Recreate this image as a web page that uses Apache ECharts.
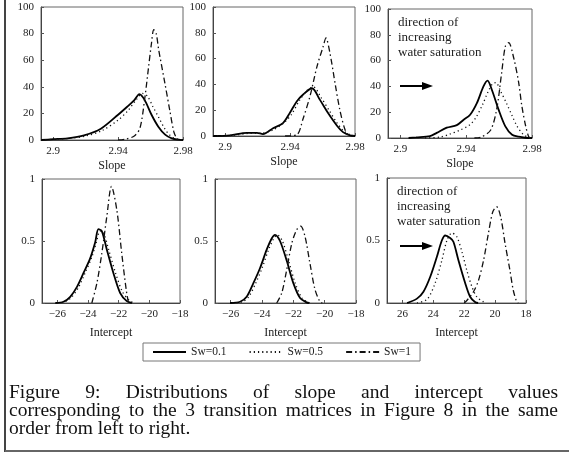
<!DOCTYPE html>
<html>
<head>
<meta charset="utf-8">
<script src="https://cdn.jsdelivr.net/npm/echarts@6/dist/echarts.min.js"></script>
<style>
  html, body { margin: 0; padding: 0; background: #fff; }
  #main { width: 569px; height: 454px; }
</style>
</head>
<body>
<div id="main"></div>
<script>
// legend names
var seriesNames = ['Sw=0.1', 'Sw=0.5', 'Sw=1'];

// tick labels
var slopeTicks = [2.9, 2.94, 2.98];
var interceptTicks = [-26, -24, -22, -20, -18];
var interceptTicksRev = [26, 24, 22, 20, 18];

// top row: slope distributions  [slope, density]
var slope1Sw01 = [[2.8925,0],[2.9,0.6],[2.9088,1.3],[2.919,3.5],[2.9294,8.5],[2.94,19],[2.9456,25],[2.95,30],[2.9531,34.5],[2.9564,30],[2.9606,19],[2.9648,10],[2.969,4],[2.9731,1.2],[2.9773,0.2],[2.98,0]];
var slope1Sw05 = [[2.8925,0],[2.9,0.5],[2.91,1.2],[2.92,3],[2.93,7],[2.94,15],[2.946,22],[2.951,30],[2.955,35],[2.958,33],[2.9615,25],[2.965,17],[2.969,8],[2.972,3.5],[2.975,1],[2.978,0.2],[2.98,0]];
var slope1Sw1 = [[2.94,0],[2.945,0.8],[2.95,3],[2.9535,9],[2.9563,30],[2.9588,55],[2.9605,72],[2.962,83],[2.9635,80],[2.965,68],[2.9688,43],[2.9719,22],[2.9744,6],[2.9763,1],[2.978,0]];

var slope2Sw01 = [[2.8925,0],[2.903,0.5],[2.9134,2.5],[2.9196,2.5],[2.9233,1.5],[2.9295,6],[2.9356,10],[2.9399,18],[2.9442,27],[2.9479,32],[2.9535,37],[2.9584,28],[2.9633,18],[2.9689,8],[2.9726,3],[2.9769,0.5],[2.98,0]];
var slope2Sw05 = [[2.8925,0],[2.905,0.6],[2.915,2],[2.922,2],[2.93,5],[2.936,10],[2.941,17],[2.946,28],[2.951,36],[2.9545,38],[2.959,30],[2.964,20],[2.969,10],[2.973,4],[2.977,1],[2.98,0]];
var slope2Sw1 = [[2.9369,0],[2.9442,1],[2.9479,13],[2.9523,31],[2.9566,54],[2.9603,69],[2.9621,76],[2.9646,64],[2.9677,41],[2.9707,20],[2.9738,5],[2.9757,1],[2.977,0]];

var slope3Sw01 = [[2.905,0],[2.9096,0.5],[2.918,1.5],[2.9221,4],[2.9282,8],[2.9343,10],[2.9383,14],[2.9424,18],[2.9465,27],[2.9505,40],[2.953,44.5],[2.9557,37],[2.9597,22],[2.9638,9],[2.9679,2.5],[2.9719,1],[2.976,0.2],[2.98,0]];
var slope3Sw05 = [[2.915,0],[2.9245,0.8],[2.93,3],[2.936,6],[2.942,10],[2.946,16],[2.95,26],[2.953,35],[2.956,42],[2.958,43],[2.961,36],[2.9645,27],[2.968,17],[2.971,9],[2.9745,3],[2.977,0.8],[2.979,0]];
var slope3Sw1 = [[2.945,0],[2.9487,0.5],[2.9548,6],[2.9585,22],[2.9615,50],[2.9638,71],[2.9658,74],[2.9689,62],[2.9719,43],[2.9738,25],[2.9762,9],[2.978,1],[2.979,0]];

// bottom row: intercept distributions  [intercept, density]
var icpt1Sw01 = [[-26.13,0],[-25.6,0.01],[-25.16,0.05],[-24.72,0.13],[-24.3,0.24],[-23.86,0.36],[-23.53,0.49],[-23.32,0.595],[-23.1,0.58],[-22.77,0.43],[-22.34,0.24],[-21.9,0.08],[-21.47,0.015],[-21.14,0]];
var icpt1Sw05 = [[-26,0],[-25.5,0.01],[-25.05,0.05],[-24.6,0.13],[-24.2,0.24],[-23.78,0.36],[-23.45,0.49],[-23.22,0.58],[-23.0,0.57],[-22.65,0.43],[-22.2,0.24],[-21.75,0.09],[-21.3,0.02],[-21.0,0]];
var icpt1Sw1 = [[-23.75,0],[-23.42,0.16],[-23.1,0.4],[-22.77,0.7],[-22.47,0.94],[-22.12,0.75],[-21.8,0.4],[-21.5,0.1],[-21.36,0]];

var icpt2Sw01 = [[-26.04,0],[-25.4,0.01],[-24.98,0.05],[-24.55,0.16],[-24.13,0.28],[-23.7,0.43],[-23.38,0.52],[-23.17,0.55],[-22.85,0.5],[-22.42,0.34],[-22.0,0.16],[-21.57,0.04],[-21.15,0.005],[-21.0,0]];
var icpt2Sw05 = [[-25.9,0],[-25.25,0.01],[-24.85,0.05],[-24.4,0.16],[-24.0,0.28],[-23.58,0.43],[-23.25,0.52],[-23.02,0.55],[-22.7,0.5],[-22.3,0.34],[-21.88,0.16],[-21.45,0.04],[-21.05,0.005],[-20.9,0]];
var icpt2Sw1 = [[-23.06,0],[-22.74,0.08],[-22.42,0.27],[-22.1,0.48],[-21.79,0.59],[-21.53,0.62],[-21.26,0.54],[-20.94,0.32],[-20.62,0.11],[-20.3,0.01],[-20.15,0]];

var icpt3Sw01 = [[25.7,0],[25.06,0.035],[24.64,0.09],[24.2,0.21],[23.77,0.37],[23.45,0.5],[23.23,0.54],[22.91,0.52],[22.7,0.49],[22.37,0.34],[21.94,0.16],[21.62,0.05],[21.3,0.008],[21.1,0]];
var icpt3Sw05 = [[25.06,0],[24.4,0.03],[23.88,0.16],[23.45,0.34],[23.12,0.5],[22.8,0.56],[22.48,0.53],[22.15,0.41],[21.83,0.26],[21.5,0.13],[21.19,0.05],[20.75,0.008],[20.6,0]];
var icpt3Sw1 = [[22.0,0],[21.83,0.02],[21.4,0.09],[21.08,0.18],[20.75,0.34],[20.43,0.56],[20.15,0.73],[19.9,0.77],[19.64,0.69],[19.36,0.48],[19.04,0.26],[18.82,0.1],[18.6,0.01],[18.5,0]];

var captionLines = [
  'Figure 9: Distributions of slope and intercept values',
  'corresponding to the 3 transition matrices in Figure 8 in the same',
  'order from left to right.'
];
var noteLines = ['direction of', 'increasing', 'water saturation'];

var serif = "'Liberation Serif', 'DejaVu Serif', serif";

// plot boxes
var grids = [
  { left: 41, top: 7, width: 142, height: 133 },
  { left: 213, top: 7, width: 142, height: 129 },
  { left: 388, top: 9, width: 144, height: 129 },
  { left: 42, top: 179, width: 138, height: 124 },
  { left: 215, top: 179, width: 141, height: 124 },
  { left: 387, top: 178, width: 139, height: 125 }
];

var lineStyles = [
  { color: '#000', width: 1.8, type: 'solid' },
  { color: '#111', width: 1.3, type: [1.2, 3] },
  { color: '#111', width: 1.3, type: [6, 3, 1.5, 3] }
];

var panelData = [
  [slope1Sw01, slope1Sw05, slope1Sw1],
  [slope2Sw01, slope2Sw05, slope2Sw1],
  [slope3Sw01, slope3Sw05, slope3Sw1],
  [icpt1Sw01, icpt1Sw05, icpt1Sw1],
  [icpt2Sw01, icpt2Sw05, icpt2Sw1],
  [icpt3Sw01, icpt3Sw05, icpt3Sw1]
];

function fmtNum(v) {
  return v < 0 ? '\u2212' + Math.abs(v) : String(v);
}

var xAxes = [], yAxes = [], series = [];
grids.forEach(function (g, i) {
  var top = i < 3;
  var inv = i === 5;
  var ticks = top ? slopeTicks : (inv ? interceptTicksRev : interceptTicks);
  xAxes.push({
    type: 'value', gridIndex: i,
    min: top ? 2.8925 : (inv ? 18 : -27),
    max: top ? 2.98 : (inv ? 27 : -18),
    inverse: inv,
    name: top ? 'Slope' : 'Intercept',
    nameLocation: 'middle',
    nameGap: top ? 20 : 24,
    nameTextStyle: { fontFamily: serif, fontSize: 12, color: '#222' },
    axisLine: { lineStyle: { color: '#444', width: 1 } },
    axisTick: { inside: true, length: 3, customValues: ticks, lineStyle: { color: '#555' } },
    axisLabel: { customValues: ticks, formatter: fmtNum, margin: 6,
      fontFamily: serif, fontSize: 11, color: '#222' },
    splitLine: { show: false }
  });
  yAxes.push({
    type: 'value', gridIndex: i,
    min: 0, max: top ? 100 : 1, interval: top ? 20 : 0.5,
    axisLine: { show: true, lineStyle: { color: '#444', width: 1 } },
    axisTick: { show: true, inside: true, length: 3, lineStyle: { color: '#555' } },
    axisLabel: { margin: 7, fontFamily: serif, fontSize: 11, color: '#222' },
    splitLine: { show: false }
  });
  panelData[i].forEach(function (d, k) {
    series.push({
      name: seriesNames[k], type: 'line',
      xAxisIndex: i, yAxisIndex: i,
      data: d, showSymbol: false, symbol: 'none',
      smooth: 0.3, silent: true,
      itemStyle: { color: '#000' },
      lineStyle: lineStyles[k]
    });
  });
});

// caption with justified lines
var measureCtx = document.createElement('canvas').getContext('2d');
var capFont = '19.5px ' + serif;
function placeWords(text, x0, x1, y, justify) {
  measureCtx.font = capFont;
  var words = text.split(' ');
  var widths = words.map(function (w) { return measureCtx.measureText(w).width; });
  var total = widths.reduce(function (a, b) { return a + b; }, 0);
  var gap = justify ? (x1 - x0 - total) / (words.length - 1) : measureCtx.measureText(' ').width;
  var x = x0, out = [];
  words.forEach(function (w, i) {
    out.push({ type: 'text', x: x, y: y, silent: true,
      style: { text: w, font: capFont, fill: '#111', verticalAlign: 'middle', align: 'left' } });
    x += widths[i] + gap;
  });
  return out;
}

var graphics = [];
graphics = graphics.concat(placeWords(captionLines[0], 9, 558, 393, true));
graphics = graphics.concat(placeWords(captionLines[1], 9, 558, 411, true));
graphics = graphics.concat(placeWords(captionLines[2], 9, 558, 429, false));

// notes + arrows in the right-hand panels
[[398, 23, 86], [397, 192, 246]].forEach(function (p) {
  noteLines.forEach(function (t, j) {
    graphics.push({ type: 'text', x: p[0], y: p[1] + j * 15, silent: true,
      style: { text: t, fontFamily: serif, fontSize: 13, fill: '#222', verticalAlign: 'middle' } });
  });
  graphics.push({ type: 'line', silent: true,
    shape: { x1: 400, y1: p[2], x2: 424, y2: p[2] },
    style: { stroke: '#000', lineWidth: 2 } });
  graphics.push({ type: 'polygon', silent: true,
    shape: { points: [[422, p[2] - 4], [433, p[2]], [422, p[2] + 4]] },
    style: { fill: '#000' } });
});

// page frame
graphics.push({ type: 'line', silent: true, shape: { x1: 5, y1: 0, x2: 5, y2: 452 },
  style: { stroke: '#444', lineWidth: 2 } });
graphics.push({ type: 'line', silent: true, shape: { x1: 5, y1: 451, x2: 569, y2: 451 },
  style: { stroke: '#666', lineWidth: 2 } });

var chart = echarts.init(document.getElementById('main'));
chart.setOption({
  backgroundColor: '#fff',
  animation: false,
  grid: grids.map(function (g) {
    return Object.assign({ show: true, borderColor: '#666', borderWidth: 1, backgroundColor: 'transparent' }, g);
  }),
  xAxis: xAxes,
  yAxis: yAxes,
  legend: {
    data: seriesNames,
    left: 143, top: 343,
    itemWidth: 33, itemHeight: 10, itemGap: 22,
    padding: [3, 9],
    borderColor: '#777', borderWidth: 1,
    itemStyle: { opacity: 0 },
    textStyle: { fontFamily: serif, fontSize: 11.5, color: '#222' },
    selectedMode: false
  },
  series: series,
  graphic: graphics
});
</script>
</body>
</html>
